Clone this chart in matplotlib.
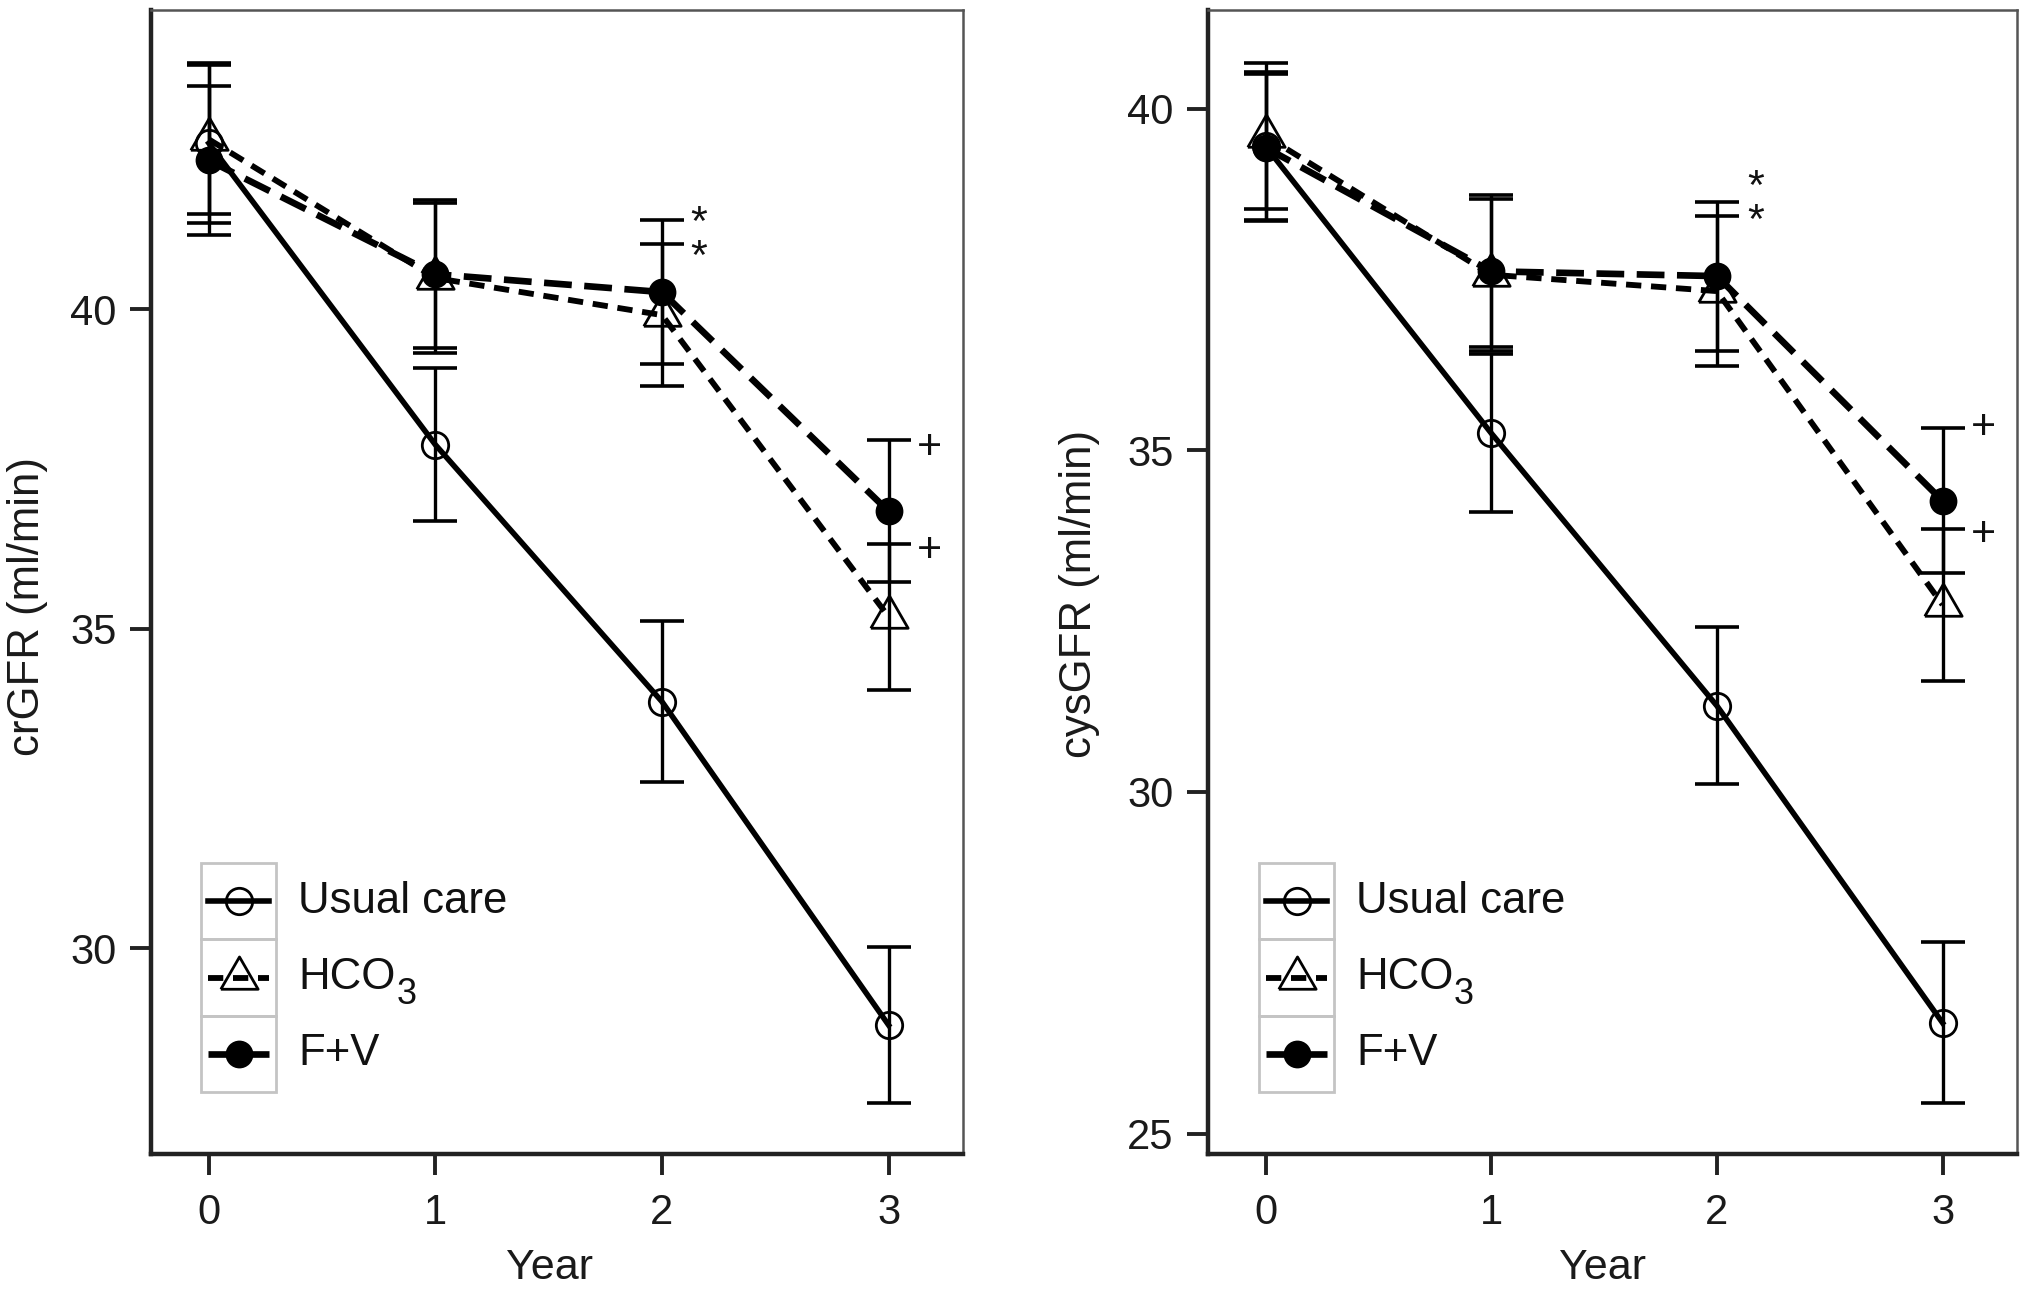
import matplotlib
matplotlib.use("Agg")
import matplotlib.pyplot as plt
from matplotlib.patches import Rectangle

plt.rcParams['font.family'] = ['Liberation Sans', 'DejaVu Sans']
plt.rcParams['lines.scale_dashes'] = False

# data
years = [0, 1, 2, 3]
labels = ["Usual care", "HCO", "F+V"]
subscripts = ["", "3", ""]

cr_uc = [42.60, 37.88, 33.86, 28.80]
cr_uc_se = [1.25, 1.20, 1.26, 1.22]
cr_hco3 = [42.66, 40.49, 39.91, 35.19]
cr_hco3_se = [1.17, 1.18, 1.11, 1.14]
cr_fv = [42.33, 40.55, 40.27, 36.84]
cr_fv_se = [1.17, 1.16, 1.13, 1.11]

cys_uc = [39.45, 35.25, 31.26, 26.62]
cys_uc_se = [1.08, 1.16, 1.15, 1.18]
cys_hco3 = [39.60, 37.57, 37.33, 32.74]
cys_hco3_se = [1.07, 1.11, 1.10, 1.11]
cys_fv = [39.43, 37.62, 37.55, 34.26]
cys_fv_se = [1.08, 1.11, 1.09, 1.06]

# significance marks (x, y, symbol)
cr_marks = [(2.16, 41.40, "*"), (2.16, 40.88, "*"), (3.18, 37.90, "+"), (3.18, 36.29, "+")]
cys_marks = [(2.17, 38.91, "*"), (2.17, 38.41, "*"), (3.18, 35.39, "+"), (3.18, 33.82, "+")]

cr_ticks = [30, 35, 40]
cys_ticks = [25, 30, 35, 40]

# equilateral open triangle like ggplot shape 2
tri = [(-0.866, -0.5), (0.866, -0.5), (0.0, 1.0), (-0.866, -0.5)]

styles = [
    dict(ls='-', lw=4.0, marker='o', ms=19, mfc='none', mec='black', mew=2.0),
    dict(ls=(0, (11, 7)), lw=4.2, marker=tri, ms=31, mfc='none', mec='black', mew=2.0),
    dict(ls=(0, (20, 9)), lw=4.8, marker='o', ms=18, mfc='black', mec='black', mew=2.0),
]

fig = plt.figure(figsize=(20.28, 12.9), dpi=100)
ax1 = fig.add_axes([0.0745, 0.1054, 0.4005, 0.8866])
ax2 = fig.add_axes([0.5957, 0.1054, 0.3989, 0.8866])


def draw_panel(ax, series, marks, ticks, ylim, ylabel, key_x0, ylab_xy, xlab_x):
    for (vals, se), st in zip(series, styles):
        ax.errorbar(years, vals, yerr=se, fmt='none', ecolor='black',
                    elinewidth=2.4, capsize=16, capthick=2.6, zorder=2)
    for (vals, se), st in zip(series, styles):
        ax.plot(years, vals, color='black', zorder=3, **st)
    for x, y, s in marks:
        ax.text(x, y, s, ha='center', va='center_baseline', fontsize=31,
                color='#111111')

    ax.set_xlim(-0.255, 3.33)
    ax.set_ylim(*ylim)
    ax.set_xticks(years)
    ax.set_yticks(ticks)
    ax.tick_params(axis='both', length=15, width=2.8, color='#222222',
                   labelsize=30, labelcolor='#1a1a1a')
    ax.tick_params(axis='x', pad=13)
    ax.tick_params(axis='y', pad=10)
    for side in ['left', 'bottom']:
        ax.spines[side].set_linewidth(3.2)
        ax.spines[side].set_color('#222222')
    for side in ['top', 'right']:
        ax.spines[side].set_linewidth(1.8)
        ax.spines[side].set_color('#555555')

    ax.set_xlabel("Year", fontsize=31, color='#1a1a1a', va='baseline')
    ax.xaxis.set_label_coords(xlab_x, -0.109)
    ax.set_ylabel(ylabel, fontsize=31.5, color='#1a1a1a', va='center')
    ax.yaxis.set_label_coords(*ylab_xy)

    # legend drawn as ggplot-style keys
    key_w, key_h, key_bottom = 0.093, 0.0667, 0.0542
    for i, (lab, sub, st) in enumerate(zip(labels, subscripts, styles)):
        yb = key_bottom + (2 - i) * key_h
        yc = yb + key_h / 2
        ax.add_patch(Rectangle((key_x0, yb), key_w, key_h, transform=ax.transAxes,
                               fill=False, ec='#c4c4c4', lw=2.0, zorder=4))
        ax.plot([key_x0 + 0.009, key_x0 + 0.047, key_x0 + 0.084], [yc, yc, yc],
                transform=ax.transAxes, color='black', markevery=[1],
                zorder=5, clip_on=False, **st)
        t = ax.text(key_x0 + 0.120, yc, lab, transform=ax.transAxes, va='center',
                    ha='left', fontsize=31.5, color='#111111')
        if sub:
            ax.annotate(sub, xy=(1, 0), xycoords=t, xytext=(0.5, -4.5),
                        textcoords='offset points', va='baseline', ha='left',
                        fontsize=26, color='#111111')


draw_panel(ax1, [(cr_uc, cr_uc_se), (cr_hco3, cr_hco3_se), (cr_fv, cr_fv_se)],
           cr_marks, cr_ticks, (26.78, 44.68), "crGFR (ml/min)", 0.0610,
           (-0.152, 0.479), 0.490)
draw_panel(ax2, [(cys_uc, cys_uc_se), (cys_hco3, cys_hco3_se), (cys_fv, cys_fv_se)],
           cys_marks, cys_ticks, (24.70, 41.44), "cysGFR (ml/min)", 0.0628,
           (-0.159, 0.4895), 0.488)

fig.savefig("out.png", dpi=100, facecolor='white')
